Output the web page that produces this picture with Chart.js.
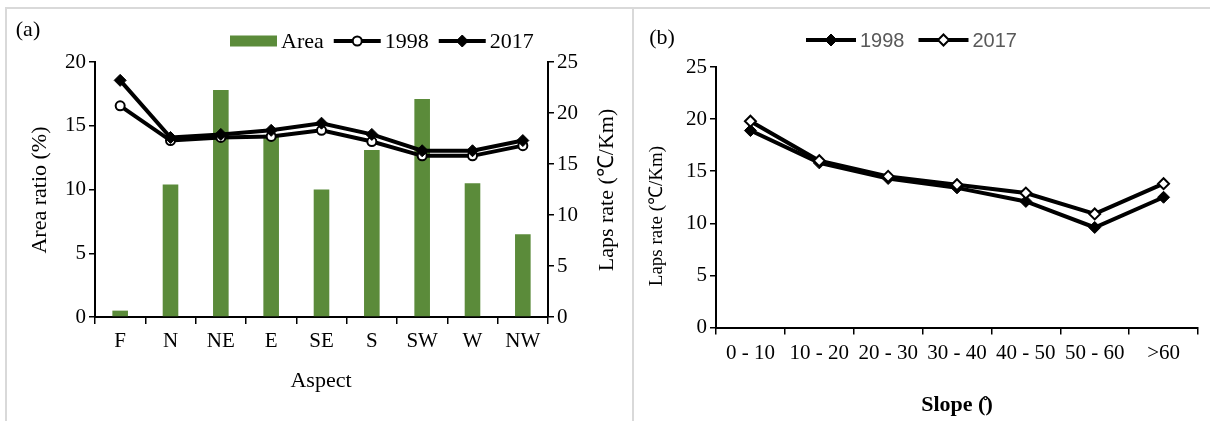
<!DOCTYPE html>
<html>
<head>
<meta charset="utf-8">
<script src="https://cdn.jsdelivr.net/npm/chart.js@4/dist/chart.umd.min.js"></script>
<style>
  html, body { margin: 0; padding: 0; background: #fff; }
  #wrap { position: relative; width: 1210px; height: 421px; overflow: hidden; }
  .rule { position: absolute; background: #d9d9d9; }
  canvas { position: absolute; top: 0; }
</style>
</head>
<body>
<div id="wrap">
  <div class="rule" style="left:5px;top:7px;width:1205px;height:2px"></div>
  <div class="rule" style="left:5px;top:7px;width:2px;height:414px"></div>
  <div class="rule" style="left:632px;top:7px;width:2px;height:414px"></div>
  <canvas id="chartA" width="632" height="421" style="left:0"></canvas>
  <canvas id="chartB" width="578" height="421" style="left:632px"></canvas>
</div>
<script>
// (a) area share and lapse rate by aspect
const aspects = ['F', 'N', 'NE', 'E', 'SE', 'S', 'SW', 'W', 'NW'];
const areaRatio = [0.5, 10.4, 17.8, 14.3, 10.0, 13.1, 17.1, 10.5, 6.5];
const lapse1998ByAspect = [20.7, 17.3, 17.6, 17.7, 18.3, 17.2, 15.8, 15.8, 16.8];
const lapse2017ByAspect = [23.2, 17.6, 17.9, 18.3, 19.0, 17.9, 16.3, 16.3, 17.3];
const areaTicks = [0, 5, 10, 15, 20];
const lapseTicksA = [0, 5, 10, 15, 20, 25];

// (b) lapse rate by slope class
const slopes = ['0 - 10', '10 - 20', '20 - 30', '30 - 40', '40 - 50', '50 - 60', '>60'];
const lapse1998BySlope = [18.9, 15.8, 14.3, 13.4, 12.1, 9.6, 12.5];
const lapse2017BySlope = [19.8, 16.0, 14.5, 13.7, 12.9, 10.9, 13.8];
const lapseTicksB = [0, 5, 10, 15, 20, 25];

const SERIF = "'Liberation Serif', 'Times New Roman', serif";
const GREEN = '#5b8b3a';

function fixedTicks(list) {
  return function (scale) { scale.ticks = list.map(v => ({ value: v })); };
}

// Panel labels, rotated axis titles and the line+marker legend
const decor = {
  id: 'decor',
  afterDraw(chart, args, opts) {
    const ctx = chart.ctx;
    ctx.save();
    (opts.texts || []).forEach(t => {
      ctx.save();
      ctx.font = t.font;
      ctx.fillStyle = t.color || '#000';
      ctx.textAlign = 'center';
      ctx.textBaseline = 'middle';
      ctx.translate(t.x, t.y);
      if (t.rot) ctx.rotate(t.rot);
      ctx.fillText(t.text, 0, 0);
      ctx.restore();
    });
    const lg = opts.legend;
    if (lg) {
      let x = lg.x;
      const y = lg.y;
      chart.data.datasets.forEach(ds => {
        if ((ds.type || chart.config.type) === 'bar') {
          ctx.fillStyle = ds.backgroundColor;
          ctx.fillRect(x, y - 5.5, lg.symbolW, 11);
        } else {
          ctx.strokeStyle = ds.borderColor;
          ctx.lineWidth = ds.borderWidth;
          ctx.beginPath();
          ctx.moveTo(x, y);
          ctx.lineTo(x + lg.symbolW, y);
          ctx.stroke();
          ctx.fillStyle = ds.pointBackgroundColor;
          ctx.strokeStyle = ds.pointBorderColor;
          ctx.lineWidth = ds.pointBorderWidth;
          Chart.helpers.drawPoint(ctx, {
            pointStyle: ds.pointStyle, radius: ds.pointRadius,
            rotation: 0, borderWidth: ds.pointBorderWidth
          }, x + lg.symbolW / 2, y);
        }
        x += lg.symbolW + lg.gap;
        ctx.font = lg.font;
        ctx.fillStyle = lg.color;
        ctx.textAlign = 'left';
        ctx.textBaseline = 'middle';
        ctx.fillText(ds.label, x, y + 1);
        x += ctx.measureText(ds.label).width + lg.itemGap;
      });
    }
    ctx.restore();
  }
};

const tickFont = { family: SERIF, size: 21 };
const axisGrid = { drawOnChartArea: false, color: '#000', lineWidth: 1.5, tickLength: 6 };
const axisBorder = { display: true, color: '#000', width: 2 };

new Chart(document.getElementById('chartA'), {
  type: 'bar',
  data: {
    labels: aspects,
    datasets: [
      {
        type: 'bar', label: 'Area', data: areaRatio, yAxisID: 'y',
        backgroundColor: GREEN, barPercentage: 0.31, categoryPercentage: 1, order: 3
      },
      {
        type: 'line', label: '1998', data: lapse1998ByAspect, yAxisID: 'y1',
        borderColor: '#000', borderWidth: 4, pointStyle: 'circle', pointRadius: 4.5,
        pointBackgroundColor: '#fff', pointBorderColor: '#000', pointBorderWidth: 2, order: 2
      },
      {
        type: 'line', label: '2017', data: lapse2017ByAspect, yAxisID: 'y1',
        borderColor: '#000', borderWidth: 4, pointStyle: 'rectRot', pointRadius: 6,
        pointBackgroundColor: '#000', pointBorderColor: '#000', pointBorderWidth: 1, order: 1
      }
    ]
  },
  options: {
    responsive: false, animation: false,
    layout: { padding: { top: 62, left: 0, right: 0, bottom: 0 } },
    plugins: {
      legend: { display: false }, tooltip: { enabled: false },
      decor: {
        texts: [
          { text: '(a)', x: 28, y: 30, font: `22px ${SERIF}` },
          { text: 'Aspect', x: 321, y: 381, font: `22px ${SERIF}` },
          { text: 'Area ratio (%)', x: 40, y: 190, rot: -Math.PI / 2, font: `22px ${SERIF}` },
          { text: 'Laps rate (℃/Km)', x: 607, y: 190, rot: -Math.PI / 2, font: `22px ${SERIF}` }
        ],
        legend: { x: 230, y: 41, symbolW: 47, gap: 4, itemGap: 10, font: `22px ${SERIF}`, color: '#000' }
      }
    },
    scales: {
      x: {
        offset: true,
        grid: Object.assign({}, axisGrid, { offset: true, tickLength: 7 }),
        border: axisBorder,
        ticks: { font: tickFont, color: '#000', padding: 5, maxRotation: 0, autoSkip: false },
        afterFit(s) { s.height = 104; }
      },
      y: {
        position: 'left', min: 0, max: 20,
        grid: axisGrid, border: axisBorder,
        ticks: { font: tickFont, color: '#000', padding: 3 },
        afterBuildTicks: fixedTicks(areaTicks),
        afterFit(s) { s.width = 95; }
      },
      y1: {
        position: 'right', min: 0, max: 25,
        grid: axisGrid, border: axisBorder,
        ticks: { font: tickFont, color: '#000', padding: 3 },
        afterBuildTicks: fixedTicks(lapseTicksA),
        afterFit(s) { s.width = 84; }
      }
    }
  },
  plugins: [decor]
});

new Chart(document.getElementById('chartB'), {
  type: 'line',
  data: {
    labels: slopes,
    datasets: [
      {
        label: '1998', data: lapse1998BySlope,
        borderColor: '#000', borderWidth: 4, pointStyle: 'rectRot', pointRadius: 6,
        pointBackgroundColor: '#000', pointBorderColor: '#000', pointBorderWidth: 1, order: 2
      },
      {
        label: '2017', data: lapse2017BySlope,
        borderColor: '#000', borderWidth: 4, pointStyle: 'rectRot', pointRadius: 5.5,
        pointBackgroundColor: '#fff', pointBorderColor: '#000', pointBorderWidth: 2, order: 1
      }
    ]
  },
  options: {
    responsive: false, animation: false,
    layout: { padding: { top: 67, left: 0, right: 12, bottom: 0 } },
    plugins: {
      legend: { display: false }, tooltip: { enabled: false },
      decor: {
        texts: [
          { text: '(b)', x: 30, y: 38, font: `22px ${SERIF}` },
          { text: 'Laps rate (℃/Km)', x: 25, y: 216, rot: -Math.PI / 2, font: `19px ${SERIF}` },
          { text: 'Slope (\u030A)', x: 325, y: 405, font: `bold 22px ${SERIF}` }
        ],
        legend: { x: 174, y: 40, symbolW: 50, gap: 4, itemGap: 14, font: "20px 'Liberation Sans', Arial, sans-serif", color: '#595959' }
      }
    },
    scales: {
      x: {
        offset: true,
        grid: Object.assign({}, axisGrid, { offset: true, tickLength: 7 }),
        border: axisBorder,
        ticks: { font: tickFont, color: '#000', padding: 6, maxRotation: 0, autoSkip: false },
        afterFit(s) { s.height = 93.5; }
      },
      y: {
        position: 'left', min: 0, max: 25,
        grid: axisGrid, border: axisBorder,
        ticks: { font: tickFont, color: '#000', padding: 3 },
        afterBuildTicks: fixedTicks(lapseTicksB),
        afterFit(s) { s.width = 84; }
      }
    }
  },
  plugins: [decor]
});
</script>
</body>
</html>
